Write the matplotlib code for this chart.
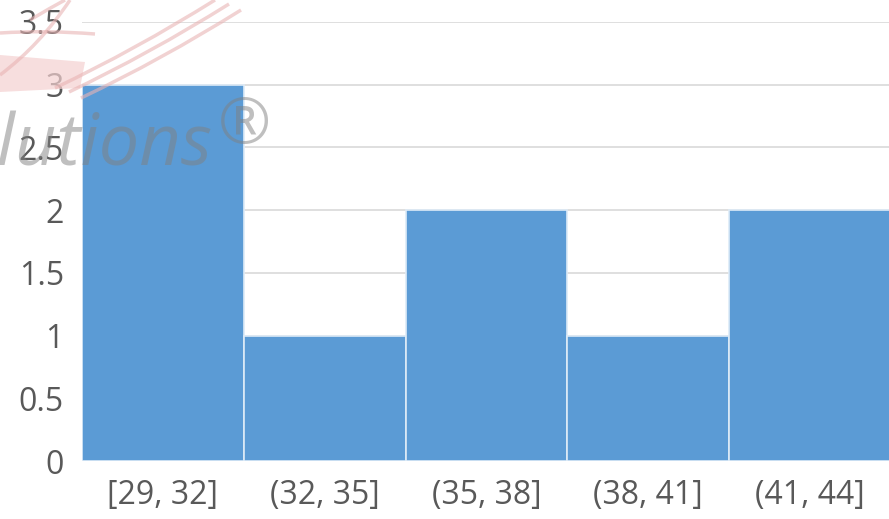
import matplotlib.pyplot as plt
import matplotlib.patches as mpatches
from matplotlib.path import Path

bins = ['[29, 32]', '(32, 35]', '(35, 38]', '(38, 41]', '(41, 44]']
counts = [3, 1, 2, 1, 2]
y_ticks = [0, 0.5, 1, 1.5, 2, 2.5, 3, 3.5]
y_labels = ['0', '0.5', '1', '1.5', '2', '2.5', '3', '3.5']

W, H = 889, 519


def px(x, y):
    # pixel position (from top-left) -> figure fraction
    return (x / W, 1 - y / H)


fig = plt.figure(figsize=(W / 100, H / 100), dpi=100)
ax = fig.add_axes([82 / W, 1 - 461 / H, 809 / W, 439 / H])

x = list(range(len(bins)))
ax.bar(x, counts, width=1.0, color='#5B9BD5', edgecolor='#DDEBF7', linewidth=1.2, zorder=3)

ax.set_xlim(-0.5, len(bins) - 0.5)
ax.set_ylim(0, 3.5)
ax.set_yticks(y_ticks)
ax.set_yticklabels(y_labels)
ax.set_xticks(x)
ax.set_xticklabels(bins)
ax.grid(axis='y', color='#D9D9D9', linewidth=1.2, zorder=0)
for s in ax.spines.values():
    s.set_visible(False)
ax.tick_params(length=0, labelsize=23, labelcolor='#595959')
ax.tick_params(axis='y', pad=13)
ax.tick_params(axis='x', pad=13)
for lab in ax.get_xticklabels() + ax.get_yticklabels():
    lab.set_fontfamily('Open Sans')

# pale logo strokes in the top-left corner
pink = '#E9B4B4'
fig.add_artist(mpatches.Polygon([px(0, 55), px(85, 62), px(80, 88), px(0, 92)],
                                closed=True, transform=fig.transFigure,
                                facecolor='#F4D0D0', alpha=0.7, edgecolor='none'))
for dx, dy in [(0, 0), (14, 4), (26, 10)]:
    verts = [px(55 + dx, 88 + dy), px(135 + dx, 50 + dy), px(215 + dx, 0 + dy)]
    p = Path(verts, [Path.MOVETO, Path.CURVE3, Path.CURVE3])
    fig.add_artist(mpatches.PathPatch(p, transform=fig.transFigure, fill=False,
                                      edgecolor=pink, lw=2.5, alpha=0.6))
for verts in ([px(0, 33), px(45, 30), px(95, 34)],
              [px(0, 75), px(40, 45), px(70, 0)],
              [px(30, 20), px(50, 8), px(65, 0)]):
    p = Path(verts, [Path.MOVETO, Path.CURVE3, Path.CURVE3])
    fig.add_artist(mpatches.PathPatch(p, transform=fig.transFigure, fill=False,
                                      edgecolor=pink, lw=2.5, alpha=0.6))

# watermark text
fig.text(*px(-44, 165), 'olutions', fontsize=52, style='italic',
         fontfamily='Open Sans', color='#808080', alpha=0.5, va='baseline', ha='left')
fig.text(*px(244, 126), '®', fontsize=46, fontfamily='Open Sans',
         color='#808080', alpha=0.5, va='center', ha='center')

fig.savefig('out.png', dpi=100)
